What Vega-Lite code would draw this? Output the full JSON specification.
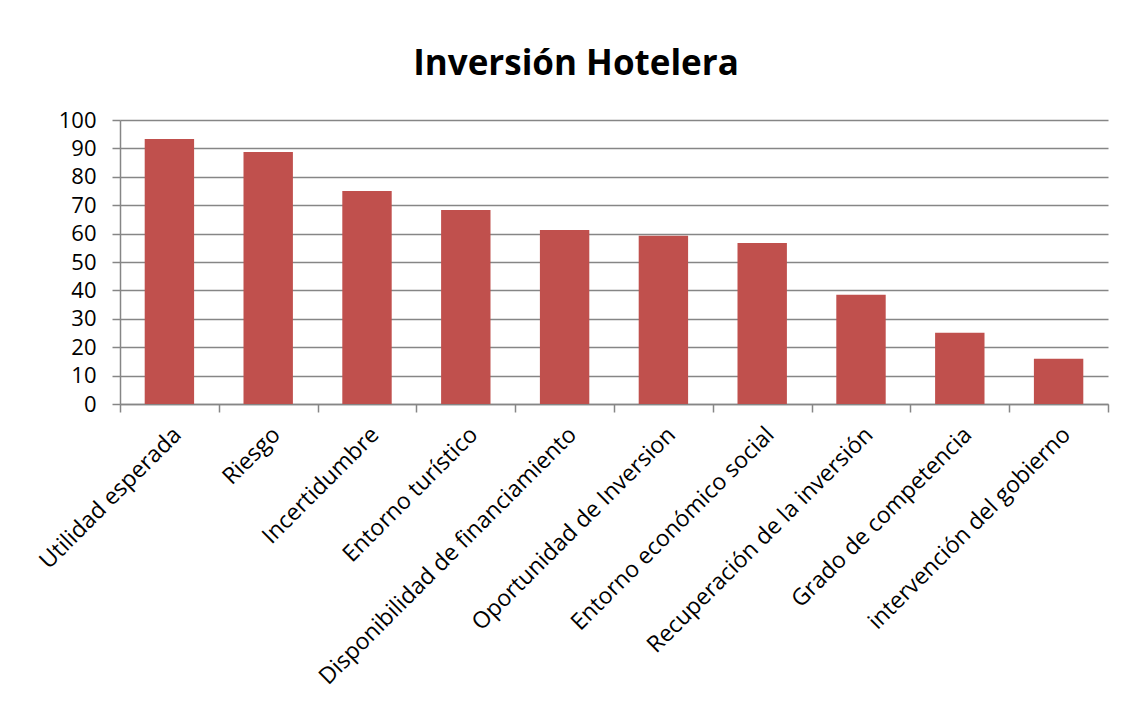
{
  "$schema": "https://vega.github.io/schema/vega-lite/v6.json",
  "autosize": "none",
  "width": 988,
  "height": 284,
  "padding": {"left": 120, "top": 120, "right": 22, "bottom": 304},
  "background": "white",
  "title": {
    "text": "Inversión Hotelera",
    "font": "Open Sans",
    "fontSize": 35,
    "fontWeight": "bold",
    "color": "#000000",
    "anchor": "middle",
    "dx": -38,
    "offset": 27
  },
  "data": {
    "values": [
      {"factor": "Utilidad esperada", "valor": 93.3},
      {"factor": "Riesgo", "valor": 88.7},
      {"factor": "Incertidumbre", "valor": 75.0},
      {"factor": "Entorno turístico", "valor": 68.3},
      {"factor": "Disponibilidad de financiamiento", "valor": 61.3},
      {"factor": "Oportunidad de Inversion", "valor": 59.2},
      {"factor": "Entorno económico social", "valor": 56.7},
      {"factor": "Recuperación de la inversión", "valor": 38.5},
      {"factor": "Grado de competencia", "valor": 25.1},
      {"factor": "intervención del gobierno", "valor": 15.9}
    ]
  },
  "mark": {"type": "bar", "color": "#c0504d", "width": {"band": 0.5}},
  "encoding": {
    "x": {
      "field": "factor",
      "type": "nominal",
      "sort": null,
      "title": null,
      "scale": {"paddingInner": 0, "paddingOuter": 0},
      "axis": {
        "labelAngle": -45,
        "labelFont": "Open Sans",
        "labelFontSize": 23,
        "labelColor": "#000000",
        "labelPadding": 11,
        "tickBand": "extent",
        "tickSize": 8,
        "tickColor": "#868686",
        "tickWidth": 1.5,
        "domainColor": "#868686",
        "domainWidth": 1.5,
        "labelLimit": 500,
        "grid": false
      }
    },
    "y": {
      "field": "valor",
      "type": "quantitative",
      "title": null,
      "scale": {"domain": [0, 100], "nice": false},
      "axis": {
        "values": [0, 10, 20, 30, 40, 50, 60, 70, 80, 90, 100],
        "labelFont": "Open Sans",
        "labelFontSize": 22,
        "labelColor": "#000000",
        "labelPadding": 16,
        "tickSize": 8,
        "tickColor": "#868686",
        "tickWidth": 1.5,
        "domainColor": "#868686",
        "domainWidth": 1.5,
        "grid": true,
        "gridColor": "#868686",
        "gridWidth": 1.5
      }
    }
  },
  "config": {"view": {"stroke": null}}
}
